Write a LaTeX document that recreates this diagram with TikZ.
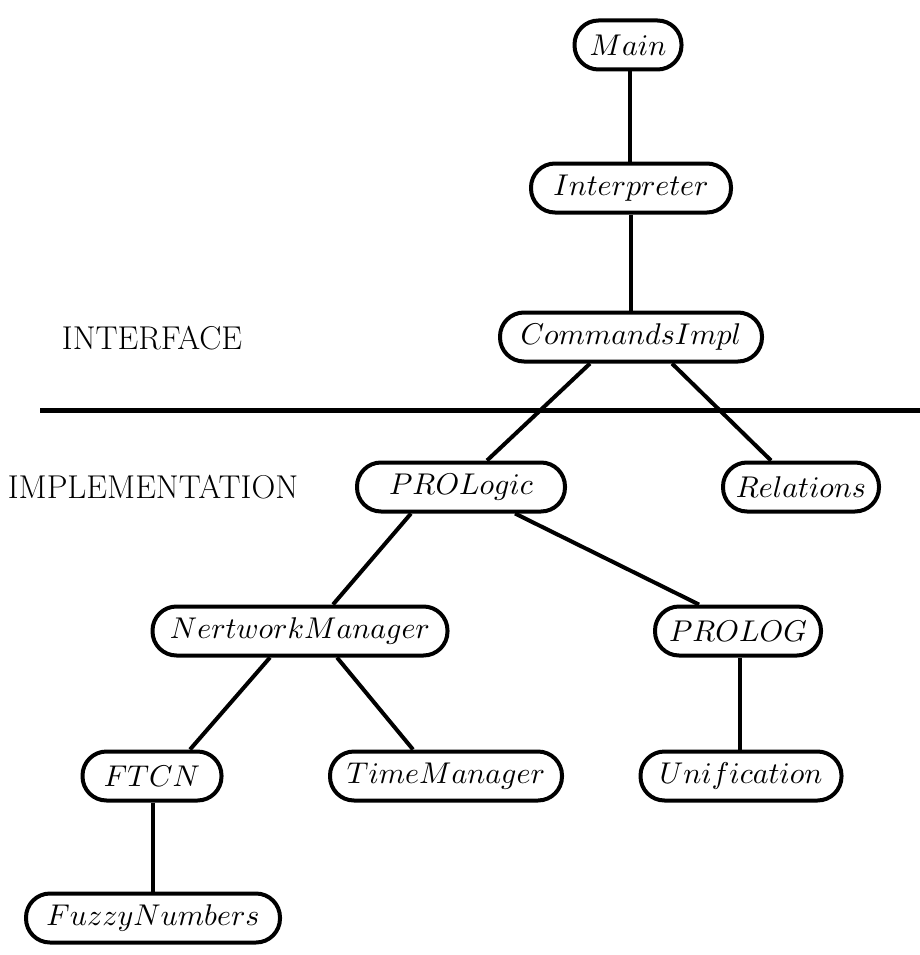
\documentclass[tikz,border=0pt]{standalone}
\usepackage{fontspec}
\usepackage{graphicx}
\newcommand{\modtxt}[1]{\scalebox{3}{$#1$}}
\begin{document}
\begin{tikzpicture}[x=1pt,y=-1pt,
  mod/.style={draw,line width=4pt,rounded corners=24pt,minimum height=49pt,inner sep=0pt},
  lnk/.style={line width=4pt},
  lbl/.style={font=\fontsize{33}{40}\selectfont,inner sep=0pt}]
\useasboundingbox (0,0) rectangle (920,955);
\node[mod,minimum width=107pt] (main) at (628,45) {\modtxt{Main}};
\node[mod,minimum width=200pt] (interp) at (631,188) {\modtxt{Interpreter}};
\node[mod,minimum width=262pt] (cmd) at (631,337) {\modtxt{CommandsImpl}};
\node[lbl] (iface) at (152,338) {INTERFACE};
\coordinate (hl) at (40,410);
\coordinate (hr) at (920,410);
\draw[line width=5pt] (hl) -- (hr);
\node[lbl] (impl) at (153,487) {IMPLEMENTATION};
\node[mod,minimum width=208pt] (plogic) at (461,487) {\modtxt{PROLogic}};
\node[mod,minimum width=156pt] (rel) at (801,487) {\modtxt{Relations}};
\node[mod,minimum width=295pt] (nm) at (300,631) {\modtxt{NertworkManager}};
\node[mod,minimum width=166pt] (prolog) at (738,631) {\modtxt{PROLOG}};
\node[mod,minimum width=139pt] (ftcn) at (152,776) {\modtxt{FTCN}};
\node[mod,minimum width=232pt] (tm) at (446,776) {\modtxt{TimeManager}};
\node[mod,minimum width=201pt] (unif) at (741,776) {\modtxt{Unification}};
\node[mod,minimum width=254pt] (fuzzy) at (153,918) {\modtxt{FuzzyNumbers}};
\draw[lnk] ([xshift=2pt]main.south) -- ([xshift=-1pt]interp.north);
\draw[lnk] (interp.south) -- (cmd.north);
\draw[lnk] ([xshift=-41pt]cmd.south) -- ([xshift=26pt]plogic.north);
\draw[lnk] ([xshift=41pt]cmd.south) -- ([xshift=-30pt]rel.north);
\draw[lnk] ([xshift=-50pt]plogic.south) -- ([xshift=33pt]nm.north);
\draw[lnk] ([xshift=54pt]plogic.south) -- ([xshift=-39pt]prolog.north);
\draw[lnk] ([xshift=-30pt]nm.south) -- ([xshift=38pt]ftcn.north);
\draw[lnk] ([xshift=37pt]nm.south) -- ([xshift=-33pt]tm.north);
\draw[lnk] ([xshift=2pt]prolog.south) -- ([xshift=-1pt]unif.north);
\draw[lnk] ([xshift=1pt]ftcn.south) -- (fuzzy.north);
\end{tikzpicture}
\end{document}
